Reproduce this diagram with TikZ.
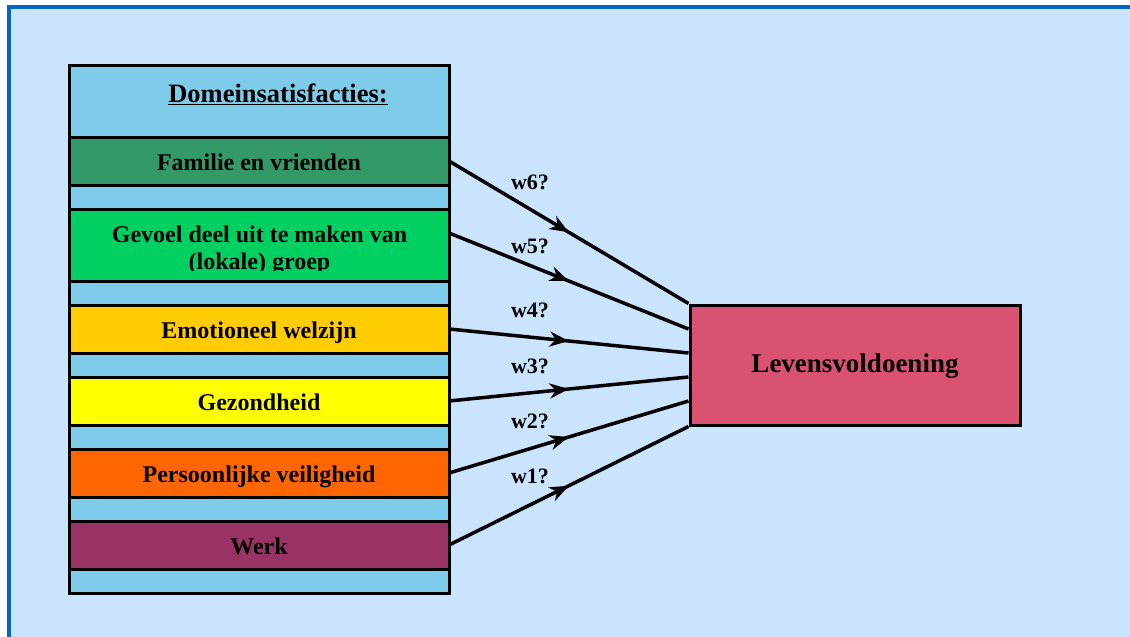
\documentclass[tikz,border=0pt]{standalone}
\usepackage{xcolor}
\usepackage{fontspec}
\setmainfont{Liberation Serif}
\usepackage{tikz}
\usetikzlibrary{positioning,arrows.meta,decorations.markings}
\definecolor{framebg}{RGB}{202,228,253}
\definecolor{frameblue}{RGB}{0,102,204}
\definecolor{bandblue}{RGB}{126,204,234}
\definecolor{familiegreen}{RGB}{51,153,102}
\definecolor{groepgreen}{RGB}{0,208,98}
\definecolor{emotiegold}{RGB}{255,204,0}
\definecolor{gezondyellow}{RGB}{255,255,0}
\definecolor{veiligorange}{RGB}{255,102,0}
\definecolor{werkpurple}{RGB}{153,51,102}
\definecolor{levenred}{RGB}{217,83,112}

\tikzset{
  band/.style={draw, rectangle, line width=3pt, minimum width=380pt, minimum height=48pt,
    inner sep=0pt, outer sep=0pt, text height=18pt, text depth=0pt,
    font=\fontsize{24}{26.5}\selectfont\bfseries},
  gapband/.style={band, fill=bandblue, minimum height=24pt},
  weight/.style={font=\fontsize{22}{22}\selectfont\bfseries, anchor=base, inner sep=0pt},
  flow/.style={line width=3.5pt,
    decoration={markings, mark=at position 0.5 with {\arrow{Stealth[length=19pt,width=15pt,inset=6pt]}}},
    postaction={decorate}}
}

\begin{document}
\begin{tikzpicture}[x=1pt, y=-1pt]
\useasboundingbox (0,0) rectangle (1130,637);
\draw[frameblue, line width=4pt, fill=framebg] (8.5,7) rectangle (1145,655);

% left stack
\node[band, fill=bandblue, minimum height=72pt] (header) at (259,101) {};
\node[font=\fontsize{26.5}{28}\selectfont\bfseries, anchor=base, inner sep=0pt] (titel) at (278,102) {\underline{Domeinsatisfacties:}};
\node[band, fill=familiegreen, below=0pt of header] (familie) {Familie en vrienden};
\node[gapband, below=0pt of familie] (gap1) {};
\node[band, fill=groepgreen, minimum height=72pt, below=0pt of gap1] (groep) {};
\begin{scope}
\clip (groep.north west) rectangle (449,270);
\node[font=\fontsize{24}{26.5}\selectfont\bfseries, align=center, anchor=base, inner sep=0pt] (groeptekst) at (259.5,269) {Gevoel deel uit te maken van\\(lokale) groep};
\end{scope}
\node[gapband, below=0pt of groep] (gap2) {};
\node[band, fill=emotiegold, below=0pt of gap2] (emotie) {Emotioneel welzijn};
\node[gapband, below=0pt of emotie] (gap3) {};
\node[band, fill=gezondyellow, below=0pt of gap3] (gezond) {Gezondheid};
\node[gapband, below=0pt of gezond] (gap4) {};
\node[band, fill=veiligorange, below=0pt of gap4] (veilig) {Persoonlijke veiligheid};
\node[gapband, below=0pt of veilig] (gap5) {};
\node[band, fill=werkpurple, below=0pt of gap5] (werk) {Werk};
\node[gapband, below=0pt of werk] (gap6) {};

% result
\node[draw, rectangle, fill=levenred, line width=3pt, minimum width=330pt, minimum height=120pt,
  text height=14pt, text depth=0pt, inner sep=0pt, font=\fontsize{27}{27}\selectfont\bfseries] (leven) at (855,365) {Levensvoldoening};

% weights
\draw[flow] (familie.east) -- (leven.north west);
\draw[flow] ([yshift=12pt]groep.east) -- ([yshift=36pt]leven.west);
\draw[flow] (emotie.east) -- ([yshift=12pt]leven.west);
\draw[flow] (gezond.east) -- ([yshift=-12pt]leven.west);
\draw[flow] (veilig.east) -- ([yshift=-36pt]leven.west);
\draw[flow] (werk.east) -- (leven.south west);

\node[weight] (w6) at (530,189) {w6?};
\node[weight] (w5) at (530,253) {w5?};
\node[weight] (w4) at (530,317) {w4?};
\node[weight] (w3) at (530,373) {w3?};
\node[weight] (w2) at (530,428) {w2?};
\node[weight] (w1) at (530,483) {w1?};
\end{tikzpicture}
\end{document}
